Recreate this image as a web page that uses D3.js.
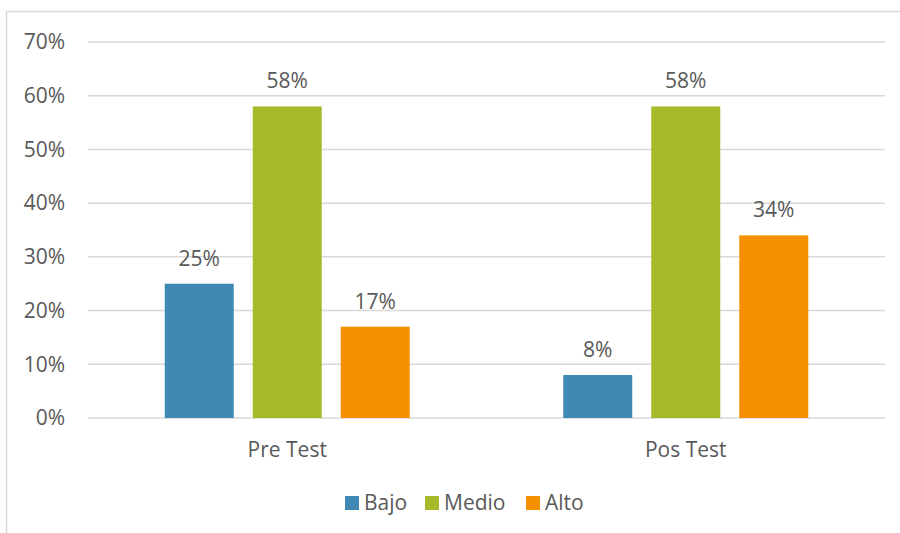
<!DOCTYPE html>
<html><head><meta charset="utf-8">
<script src="https://cdn.jsdelivr.net/npm/d3@7"></script>
<style>body{margin:0;background:#fff}svg text{font-family:"Open Sans",sans-serif;fill:#595959}</style>
</head><body><svg id="c" width="900" height="533"></svg>
<script>
const categories = ["Pre Test", "Pos Test"];
const series = ["Bajo", "Medio", "Alto"];
const bajo = [25, 8];
const medio = [58, 58];
const alto = [17, 34];
const yTicks = [0, 10, 20, 30, 40, 50, 60, 70];
const colors = ["#4189B5", "#A6B92A", "#F59100"];
const values = {Bajo: bajo, Medio: medio, Alto: alto};
const fs = 21;

const svg = d3.select("#c");
svg.append("rect").attr("x", 6.5).attr("y", 11.5).attr("width", 900).attr("height", 530)
  .attr("fill", "none").attr("stroke", "#d9d9d9").attr("stroke-width", 1.5);

const pLeft = 88, pRight = 885, pTop = 42, pBottom = 418;
const y = d3.scaleLinear().domain([0, 70]).range([pBottom, pTop]);
const x0 = d3.scaleBand().domain(categories).range([pLeft, pRight]);
const x1 = d3.scaleBand().domain(series).range([0, x0.bandwidth()]).paddingInner(0.216).paddingOuter(0.872);

const g = svg.append("g");
g.selectAll("line.grid").data(yTicks).join("line")
  .attr("x1", pLeft).attr("x2", pRight).attr("y1", d => y(d)).attr("y2", d => y(d))
  .attr("stroke", "#d9d9d9").attr("stroke-width", 1.5);
g.selectAll("text.yt").data(yTicks).join("text")
  .attr("x", 65).attr("y", d => y(d)).attr("dy", "0.35em").attr("text-anchor", "end")
  .attr("font-size", fs).text(d => d + "%");

categories.forEach((c, i) => {
  series.forEach((s, j) => {
    const v = values[s][i];
    g.append("rect").attr("x", x0(c) + x1(s)).attr("width", x1.bandwidth())
      .attr("y", y(v)).attr("height", y(0) - y(v)).attr("fill", colors[j]);
    g.append("text").attr("x", x0(c) + x1(s) + x1.bandwidth() / 2).attr("y", y(v) - 18)
      .attr("text-anchor", "middle").attr("font-size", fs).text(v + "%");
  });
  g.append("text").attr("x", x0(c) + x0.bandwidth() / 2).attr("y", 457)
    .attr("text-anchor", "middle").attr("font-size", fs).text(c);
});

const legX = [345, 425, 526];
series.forEach((s, j) => {
  svg.append("rect").attr("x", legX[j]).attr("y", 496).attr("width", 14).attr("height", 14).attr("fill", colors[j]);
  svg.append("text").attr("x", legX[j] + 19).attr("y", 503).attr("dy", "0.35em").attr("font-size", fs).text(s);
});
</script></body></html>
